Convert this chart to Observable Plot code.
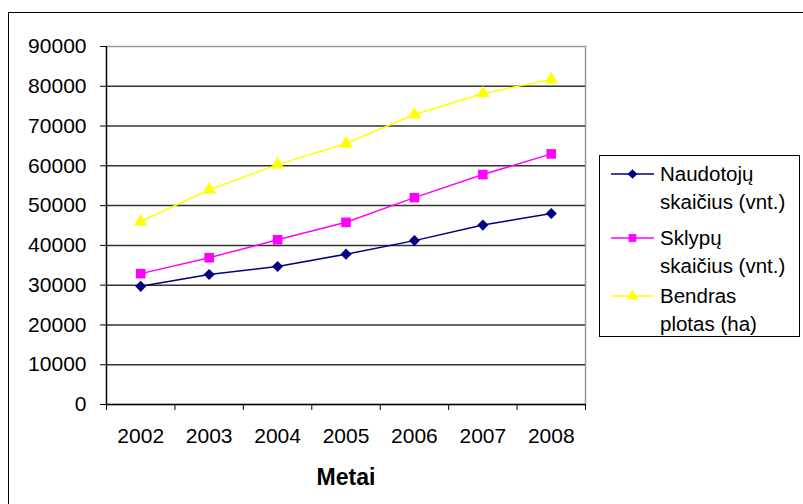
<!DOCTYPE html>
<html>
<head>
<meta charset="utf-8">
<script src="https://cdn.jsdelivr.net/npm/d3@7"></script>
<script src="https://cdn.jsdelivr.net/npm/@observablehq/plot@0.6"></script>
<style>
  html, body { margin: 0; padding: 0; background: #fff; overflow: hidden; }
  #wrap { position: relative; width: 803px; height: 504px; overflow: hidden; font-family: "Liberation Sans", Arial, sans-serif; }
  #chart { position: absolute; left: 0; top: 0; }
  #border { position: absolute; left: 8px; top: 12px; width: 900px; height: 600px; border: 1px solid #000; pointer-events: none; }
  #legend { position: absolute; left: 599px; top: 155px; width: 201px; height: 182px; border: 1px solid #000; background: #fff; box-sizing: border-box; }
  .entry { position: absolute; left: 0; width: 200px; height: 60px; }
  .entry svg { position: absolute; left: 0; top: 0; }
  .entry .lab { position: absolute; left: 60px; top: 0; font-size: 20.5px; line-height: 28px; color: #000; white-space: nowrap; }
  g[aria-label="x-axis label"] text { font-weight: bold; font-size: 23px; }
</style>
</head>
<body>
<div id="wrap">
  <div id="chart"></div>
  <div id="border"></div>
  <div id="legend"></div>
</div>
<script>
// ---- data ----
const years = [2002, 2003, 2004, 2005, 2006, 2007, 2008];
const naudotoju = [29700, 32700, 34700, 37800, 41200, 45100, 48000];
const sklypu = [32900, 36900, 41400, 45800, 52000, 57800, 63000];
const plotas = [46000, 54000, 60300, 65600, 72900, 78200, 81700];
const seriesNames = ["Naudotojų skaičius (vnt.)", "Sklypų skaičius (vnt.)", "Bendras plotas (ha)"];
const seriesLines = [["Naudotojų", "skaičius (vnt.)"], ["Sklypų", "skaičius (vnt.)"], ["Bendras", "plotas (ha)"]];
const seriesColors = ["#000080", "#FF00FF", "#FFFF00"];
const seriesSymbols = ["diamond2", "square", "triangle"];
const yTicks = [0, 10000, 20000, 30000, 40000, 50000, 60000, 70000, 80000, 90000];
const xLabel = "Metai";

const seriesValues = [naudotoju, sklypu, plotas];
const rows = [];
seriesValues.forEach((vals, i) => vals.forEach((v, j) => rows.push({ series: seriesNames[i], year: years[j], value: v })));
const boundaries = years.map(y => y - 0.5).concat([years[years.length - 1] + 0.5]);
const xDomain = [boundaries[0], boundaries[boundaries.length - 1]];
const symbolR = { diamond2: 5.0, square: 5.4, triangle: 5.0 };

const marks = [
  Plot.frame({ stroke: "#9a9a9a", strokeWidth: 1.5 }),
  Plot.gridY(yTicks.filter(t => t > 0 && t < 90000), { stroke: "#333", strokeOpacity: 1, strokeWidth: 1.5 }),
  Plot.ruleX([xDomain[0]], { stroke: "#000", strokeWidth: 1.3 }),
  Plot.ruleY([0], { stroke: "#000", strokeWidth: 1.3 }),
  Plot.axisY(yTicks, { tickSize: 6, tickPadding: 14, fontSize: 21, tickFormat: d => String(d), stroke: "#000", label: null }),
  Plot.axisX(boundaries, { tickSize: 6, tickFormat: () => "", stroke: "#000", label: null }),
  Plot.axisX(years, { tickSize: 0, tickPadding: 24, fontSize: 21, tickFormat: d => String(d), label: xLabel, labelAnchor: "center", labelOffset: 80, labelArrow: "none" })
];
seriesNames.forEach((name, i) => {
  const data = rows.filter(r => r.series === name);
  marks.push(Plot.line(data, { x: "year", y: "value", stroke: seriesColors[i], strokeWidth: 1.5 }));
  marks.push(Plot.dot(data, { x: "year", y: "value", fill: seriesColors[i], stroke: "none", symbol: seriesSymbols[i], r: symbolR[seriesSymbols[i]] }));
});

const chart = Plot.plot({
  width: 803,
  height: 504,
  marginLeft: 106,
  marginRight: 218,
  marginTop: 46,
  marginBottom: 100,
  style: { fontFamily: "'Liberation Sans', Arial, sans-serif", fontSize: "21px", color: "#000", background: "transparent" },
  x: { type: "linear", domain: xDomain },
  y: { domain: [0, 90000] },
  marks
});
document.getElementById("chart").appendChild(chart);

// ---- legend ----
const legend = document.getElementById("legend");
const tops = [4, 68, 126];
const symMap = { diamond2: d3.symbolDiamond2, square: d3.symbolSquare, triangle: d3.symbolTriangle };
seriesNames.forEach((name, i) => {
  const e = document.createElement("div");
  e.className = "entry";
  e.style.top = tops[i] + "px";
  const svg = d3.create("svg").attr("width", 60).attr("height", 30);
  svg.append("line").attr("x1", 11).attr("x2", 54).attr("y1", 14).attr("y2", 14).attr("stroke", seriesColors[i]).attr("stroke-width", 1.5);
  svg.append("path").attr("d", d3.symbol(symMap[seriesSymbols[i]], 60)()).attr("transform", "translate(32.5,14)").attr("fill", seriesColors[i]);
  e.appendChild(svg.node());
  const lab = document.createElement("div");
  lab.className = "lab";
  lab.innerHTML = seriesLines[i].join("<br>");
  e.appendChild(lab);
  legend.appendChild(e);
});
</script>
</body>
</html>
